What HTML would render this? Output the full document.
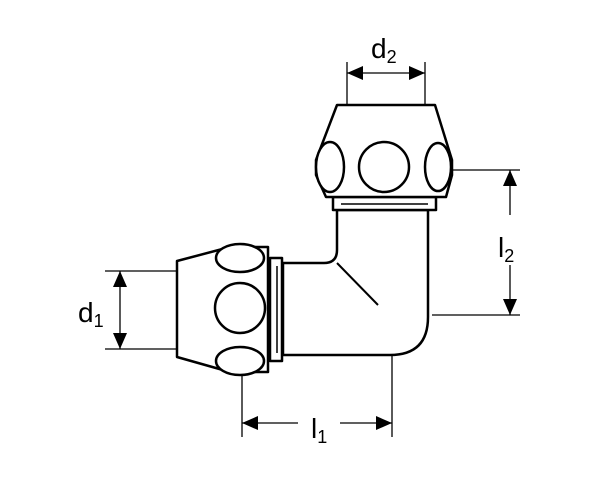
<!DOCTYPE html>
<html><head><style>html,body{margin:0;padding:0;background:#fff}svg{display:block}</style></head>
<body>
<svg width="600" height="497" viewBox="0 0 600 497" xmlns="http://www.w3.org/2000/svg">
<g fill="none" stroke="#000" stroke-width="1.3">
<!-- dimension ext lines -->
<line x1="347" y1="62" x2="347" y2="108"/>
<line x1="425" y1="62" x2="425" y2="108"/>
<line x1="347" y1="73" x2="425" y2="73"/>
<line x1="453" y1="170" x2="520" y2="170"/>
<line x1="432" y1="315" x2="520" y2="315"/>
<line x1="510" y1="170" x2="510" y2="215"/>
<line x1="510" y1="265" x2="510" y2="315"/>
<line x1="105" y1="271" x2="176" y2="271"/>
<line x1="105" y1="349" x2="176" y2="349"/>
<line x1="120" y1="271" x2="120" y2="349"/>
<line x1="242" y1="375" x2="242" y2="437"/>
<line x1="392" y1="356" x2="392" y2="437"/>
<line x1="242" y1="423" x2="298" y2="423"/>
<line x1="340" y1="423" x2="392" y2="423"/>
</g>
<g fill="#000">
<polygon points="347,73 363,66 363,80"/>
<polygon points="425,73 409,66 409,80"/>
<polygon points="510,170 503,186 517,186"/>
<polygon points="510,315 503,299 517,299"/>
<polygon points="120,271 113,287 127,287"/>
<polygon points="120,349 113,333 127,333"/>
<polygon points="242,423 258,416 258,430"/>
<polygon points="392,423 376,416 376,430"/>
</g>
<g fill="#fff" stroke="#000" stroke-width="2.5" stroke-linejoin="round">
<!-- elbow body -->
<path d="M337,210 L337,250 Q337,263 324,263 L283,263 L283,355 L390,355 Q428,355 428,317 L428,210 Z"/>
<line x1="337" y1="263" x2="378" y2="305" stroke-width="2"/>
<!-- top collar -->
<rect x="333" y="197" width="103" height="13"/>
<line x1="341" y1="204" x2="428" y2="204" stroke-width="1.5"/>
<!-- top nut -->
<path d="M337,105 L435,105 L452,160 L452,175 L446,197 L326,197 L316,175 L316,160 Z"/>
<ellipse cx="330" cy="167" rx="14" ry="25"/>
<ellipse cx="384" cy="167" rx="25" ry="25"/>
<ellipse cx="438" cy="167" rx="13" ry="24"/>
<!-- left collar -->
<rect x="270" y="258" width="12" height="103"/>
<line x1="277" y1="266" x2="277" y2="353" stroke-width="1.5"/>
<!-- left nut -->
<path d="M177,261 L230,247 L268,247 L268,372 L230,372 L177,357 Z"/>
<ellipse cx="240" cy="258" rx="24" ry="14"/>
<ellipse cx="240" cy="308" rx="25" ry="25"/>
<ellipse cx="240" cy="361" rx="24" ry="14"/>
</g>
<g font-family="Liberation Sans, sans-serif" fill="#000">
<text x="371" y="58" font-size="28">d<tspan font-size="18" dy="5">2</tspan></text>
<text x="498" y="257" font-size="28">l<tspan font-size="18" dy="5">2</tspan></text>
<text x="78" y="322" font-size="28">d<tspan font-size="18" dy="5">1</tspan></text>
<text x="311" y="438" font-size="28">l<tspan font-size="18" dy="5">1</tspan></text>
</g>
</svg>
</body></html>
